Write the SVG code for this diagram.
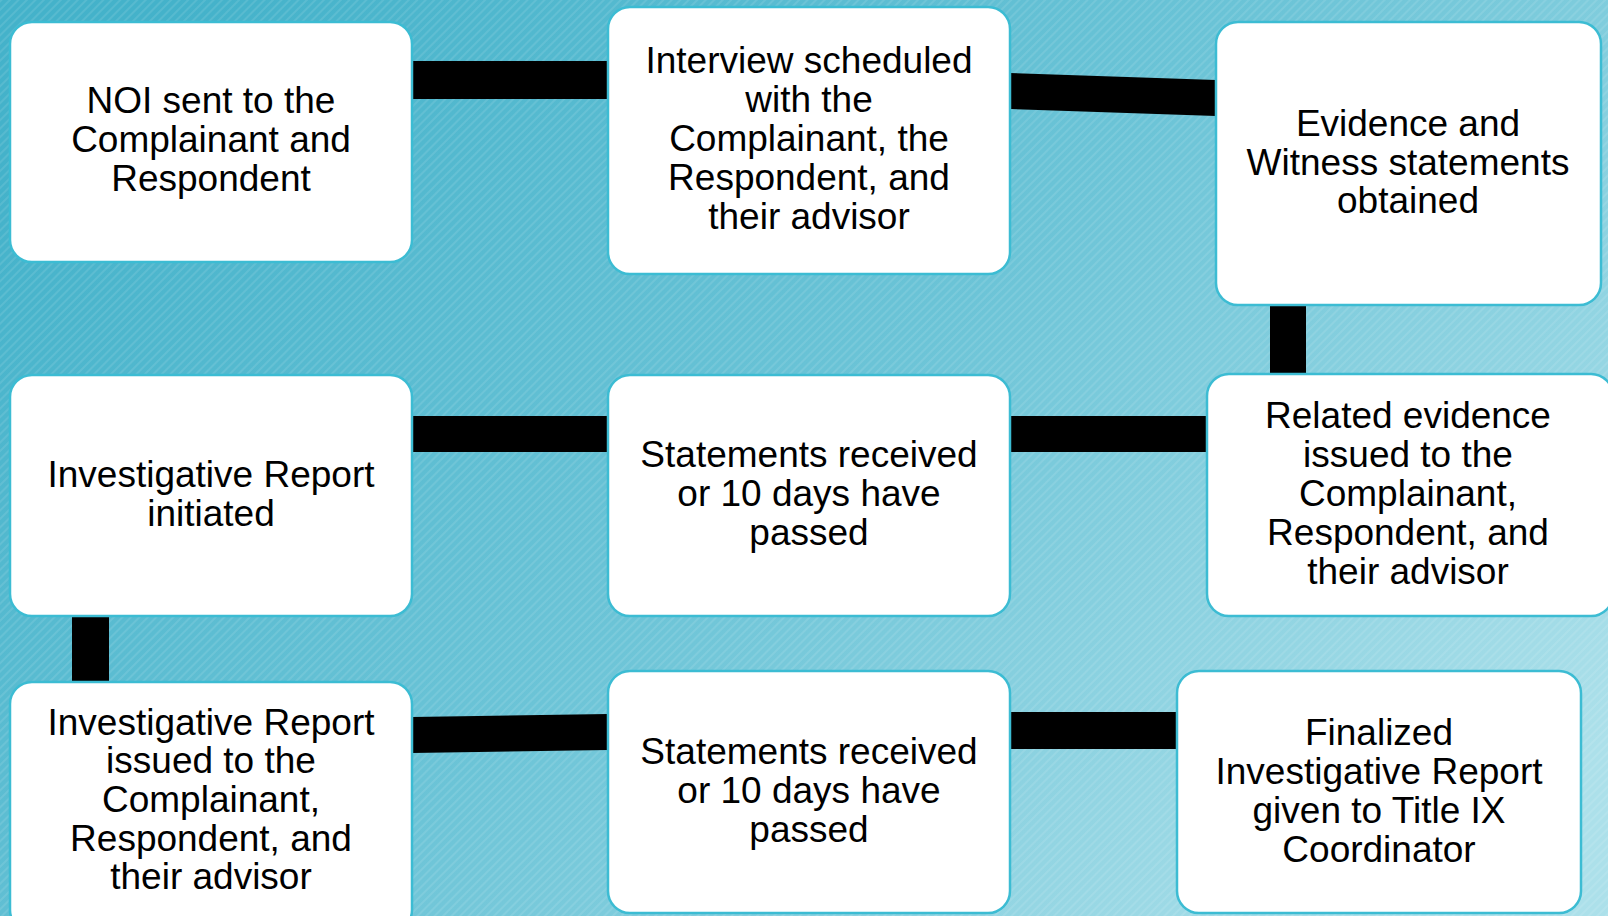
<svg xmlns="http://www.w3.org/2000/svg" width="1608" height="916" viewBox="0 0 1608 916">
  <defs>
    <linearGradient id="bg" x1="0" y1="0.2" x2="1" y2="0.8">
      <stop offset="0" stop-color="#44b2ca"/>
      <stop offset="0.5" stop-color="#6cc4d7"/>
      <stop offset="1" stop-color="#ace0ea"/>
    </linearGradient>
    <pattern id="stripes" width="6" height="6" patternUnits="userSpaceOnUse" patternTransform="rotate(45)">
      <rect x="0" y="0" width="2" height="6" fill="#ffffff" fill-opacity="0.10"/>
    </pattern>
    <style>
      .box { fill: #ffffff; stroke: #3cbcd3; stroke-width: 2.5; }
      .lbl { font-family: "Liberation Sans", Arial, sans-serif; font-size: 37px; fill: #000000; text-anchor: middle; }
      .bar { fill: #000000; }
    </style>
  </defs>

  <rect x="0" y="0" width="1608" height="916" fill="url(#bg)"/>
  <rect x="0" y="0" width="1608" height="916" fill="url(#stripes)"/>

  <g id="connectors">
    <rect class="bar" x="412" y="61" width="196" height="38"/>
    <polygon class="bar" points="1010,73 1216,80 1216,116 1010,109"/>
    <rect class="bar" x="1270" y="305" width="36" height="69"/>
    <rect class="bar" x="1010" y="416" width="197" height="36"/>
    <rect class="bar" x="412" y="416" width="196" height="36"/>
    <rect class="bar" x="72" y="616" width="37" height="66"/>
    <polygon class="bar" points="412,717 608,714 608,750 412,753"/>
    <rect class="bar" x="1010" y="712" width="167" height="37"/>
  </g>

  <g id="node-noi">
    <rect class="box" x="10" y="22" width="402" height="240" rx="22"/>
    <text class="lbl" x="211"><tspan x="211" y="113">NOI sent to the</tspan><tspan x="211" y="152">Complainant and</tspan><tspan x="211" y="191">Respondent</tspan></text>
  </g>

  <g id="node-interview">
    <rect class="box" x="608" y="7" width="402" height="267" rx="22"/>
    <text class="lbl" x="809"><tspan x="809" y="73">Interview scheduled</tspan><tspan x="809" y="112">with the</tspan><tspan x="809" y="151">Complainant, the</tspan><tspan x="809" y="190">Respondent, and</tspan><tspan x="809" y="229">their advisor</tspan></text>
  </g>

  <g id="node-evidence">
    <rect class="box" x="1216" y="22" width="385" height="283" rx="22"/>
    <text class="lbl" x="1408"><tspan x="1408" y="136">Evidence and</tspan><tspan x="1408" y="175">Witness statements</tspan><tspan x="1408" y="213">obtained</tspan></text>
  </g>

  <g id="node-report-initiated">
    <rect class="box" x="10" y="375" width="402" height="241" rx="22"/>
    <text class="lbl" x="211"><tspan x="211" y="487">Investigative Report</tspan><tspan x="211" y="526">initiated</tspan></text>
  </g>

  <g id="node-statements-1">
    <rect class="box" x="608" y="375" width="402" height="241" rx="22"/>
    <text class="lbl" x="809"><tspan x="809" y="467">Statements received</tspan><tspan x="809" y="506">or 10 days have</tspan><tspan x="809" y="545">passed</tspan></text>
  </g>

  <g id="node-related-evidence">
    <rect class="box" x="1207" y="374" width="406" height="242" rx="22"/>
    <text class="lbl" x="1408"><tspan x="1408" y="428">Related evidence</tspan><tspan x="1408" y="467">issued to the</tspan><tspan x="1408" y="506">Complainant,</tspan><tspan x="1408" y="545">Respondent, and</tspan><tspan x="1408" y="584">their advisor</tspan></text>
  </g>

  <g id="node-report-issued">
    <rect class="box" x="10" y="682" width="402" height="250" rx="22"/>
    <text class="lbl" x="211"><tspan x="211" y="735">Investigative Report</tspan><tspan x="211" y="773">issued to the</tspan><tspan x="211" y="812">Complainant,</tspan><tspan x="211" y="851">Respondent, and</tspan><tspan x="211" y="889">their advisor</tspan></text>
  </g>

  <g id="node-statements-2">
    <rect class="box" x="608" y="671" width="402" height="242" rx="22"/>
    <text class="lbl" x="809"><tspan x="809" y="764">Statements received</tspan><tspan x="809" y="803">or 10 days have</tspan><tspan x="809" y="842">passed</tspan></text>
  </g>

  <g id="node-finalized">
    <rect class="box" x="1177" y="671" width="404" height="242" rx="22"/>
    <text class="lbl" x="1379"><tspan x="1379" y="745">Finalized</tspan><tspan x="1379" y="784">Investigative Report</tspan><tspan x="1379" y="823">given to Title IX</tspan><tspan x="1379" y="862">Coordinator</tspan></text>
  </g>
</svg>
